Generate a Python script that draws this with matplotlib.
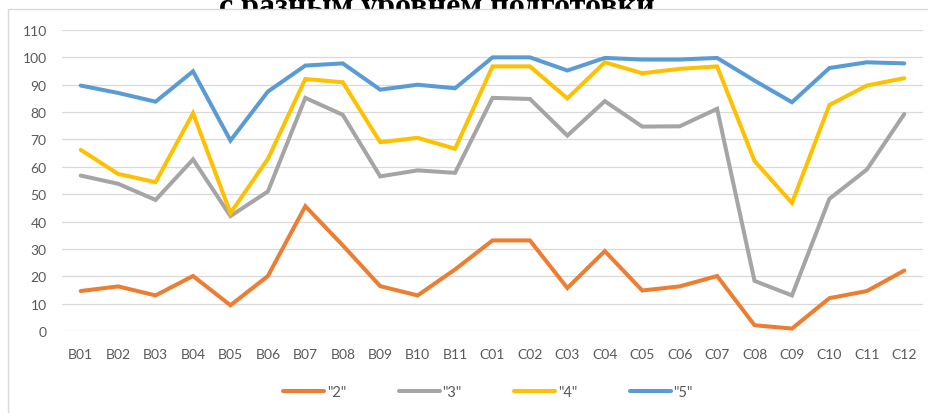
import numpy as np
import matplotlib
matplotlib.use("Agg")
import matplotlib.pyplot as plt
from matplotlib.patches import Rectangle

categories = ["B01", "B02", "B03", "B04", "B05", "B06", "B07", "B08", "B09", "B10", "B11",
              "C01", "C02", "C03", "C04", "C05", "C06", "C07", "C08", "C09", "C10", "C11", "C12"]

grade_2 = [14.6, 16.3, 13.0, 20.1, 9.4, 20.1, 45.6, 31.3, 16.4, 13.0, 22.5,
           33.1, 33.1, 15.7, 29.2, 14.8, 16.3, 20.1, 2.1, 0.9, 12.0, 14.6, 22.1]
grade_3 = [56.8, 53.8, 47.9, 62.7, 42.0, 51.0, 85.2, 79.0, 56.5, 58.7, 57.8,
           85.2, 84.8, 71.4, 84.0, 74.7, 74.8, 81.2, 18.3, 13.0, 48.3, 59.0, 79.3]
grade_4 = [66.2, 57.4, 54.4, 79.6, 43.1, 62.9, 92.1, 90.9, 69.0, 70.6, 66.6,
           96.7, 96.7, 85.0, 98.2, 94.2, 95.8, 96.7, 62.1, 46.8, 82.6, 89.7, 92.4]
grade_5 = [89.7, 87.0, 83.8, 94.9, 69.6, 87.5, 97.0, 97.8, 88.2, 90.0, 88.7,
           100.0, 100.0, 95.2, 99.8, 99.2, 99.2, 99.8, 91.5, 83.6, 96.1, 98.2, 97.8]

series_labels = ['"2"', '"3"', '"4"', '"5"']
series_colors = ["#ED7D31", "#A5A5A5", "#FFC000", "#5B9BD5"]

W, H = 929, 414
fig = plt.figure(figsize=(W / 100, H / 100), dpi=100)

# title of the page, mostly hidden behind the chart box (as in the source screenshot)
fig.text(437 / W, 1 - 15 / H, "с разным уровнем подготовки", ha="center", va="baseline",
         fontsize=23, fontweight="bold", family="Liberation Serif", zorder=0.1)
fig.patches.append(Rectangle((8 / W, -0.1), 1.2, 1.1 - 10 / H, transform=fig.transFigure,
                             facecolor="white", edgecolor="#D9D9D9", linewidth=1.0, zorder=0.5))

ax = fig.add_axes([62 / W, 1 - 332 / H, (923 - 62) / W, (332 - 31) / H])
ax.set_zorder(2)
ax.patch.set_visible(False)

x = np.arange(len(categories))
handles = []
for vals, lab, col in zip([grade_2, grade_3, grade_4, grade_5], series_labels, series_colors):
    h, = ax.plot(x, vals, color=col, linewidth=2.9, label=lab,
                 solid_joinstyle="miter", solid_capstyle="round")
    handles.append(h)

ax.set_xlim(-0.5, len(categories) - 0.5)
ax.set_ylim(0, 110)
ax.set_yticks(range(0, 111, 10))
ax.set_xticks(x)
ax.set_xticklabels(categories)
ax.grid(axis="y", color="#D9D9D9", linewidth=0.9)
ax.set_axisbelow(True)
for s in ax.spines.values():
    s.set_visible(False)
ax.tick_params(axis="both", length=0, labelsize=10, labelcolor="#595959")
ax.tick_params(axis="y", pad=11)
ax.tick_params(axis="x", pad=12)
for t in ax.get_xticklabels() + ax.get_yticklabels():
    t.set_family("Lato")

leg = fig.legend(handles=handles, labels=series_labels, loc="center",
                 bbox_to_anchor=(488 / W, 1 - 393 / H), ncol=4, frameon=False,
                 handlelength=2.8, handletextpad=0.2, columnspacing=3.6,
                 prop={"family": "Lato", "size": 10.5})
for t in leg.get_texts():
    t.set_color("#595959")

fig.savefig("out.png", dpi=100)
